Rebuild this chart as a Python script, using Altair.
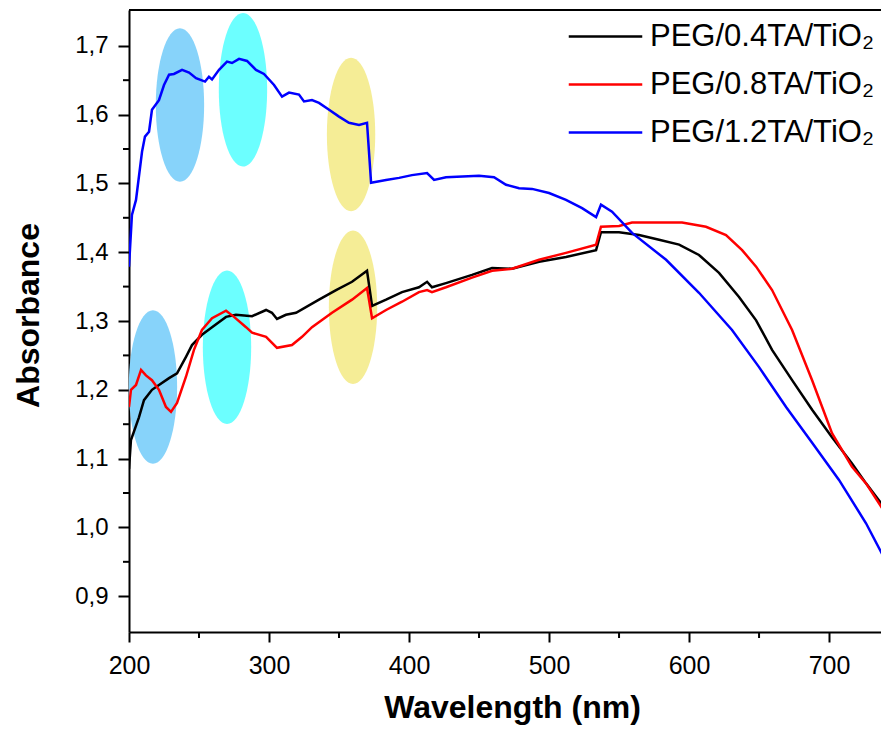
import altair as alt
import pandas as pd

# ---------------- data ----------------
names = ["PEG/0.4TA/TiO₂", "PEG/0.8TA/TiO₂", "PEG/1.2TA/TiO₂"]
colors = ["#000000", "#FF0000", "#0000FF"]

black_x = [200, 201.4, 207.1, 210.7, 216.4, 221.4, 228.6, 234.3, 240.7, 245, 252.1, 259.3, 269.3, 276.4,
           287.9, 297.9, 302.1, 305.7, 312.1, 319.3, 335.7, 347.9, 359.3, 370, 373.6, 383.6, 395, 407.1,
           412.9, 416.4, 426.4, 445, 459.3, 473.6, 492.9, 512.1, 533.6, 537.1, 550, 564.3, 578.6, 592.9,
           607.1, 621.4, 635.7, 647.9, 659.3, 673.6, 687.9, 702.1, 716.4, 726.4, 742.1]
black_y = [1.085, 1.127, 1.160, 1.185, 1.200, 1.207, 1.217, 1.224, 1.248, 1.265, 1.280, 1.291, 1.306, 1.309,
           1.307, 1.316, 1.312, 1.303, 1.309, 1.312, 1.331, 1.345, 1.357, 1.373, 1.322, 1.331, 1.342, 1.349,
           1.357, 1.349, 1.355, 1.367, 1.377, 1.376, 1.386, 1.393, 1.403, 1.429, 1.429, 1.425, 1.418, 1.411,
           1.396, 1.370, 1.335, 1.301, 1.258, 1.214, 1.171, 1.131, 1.093, 1.064, 1.022]

red_x = [200, 201.4, 205, 208.6, 212.1, 216.4, 221.4, 226.4, 230, 234.3, 240.7, 246.4, 252.1, 259.3, 269.3,
         275, 283.6, 287.9, 297.9, 305.7, 316.4, 323.6, 330.7, 345, 359.3, 370, 373.6, 383.6, 395, 407.1,
         412.9, 416.4, 426.4, 445, 459.3, 473.6, 492.9, 512.1, 533.6, 537.1, 550, 559.3, 595, 612.1, 626.4,
         637.9, 647.9, 659.3, 673.6, 687.9, 702.1, 716.4, 726.4, 742.1]
red_y = [1.175, 1.200, 1.207, 1.229, 1.221, 1.214, 1.200, 1.175, 1.168, 1.181, 1.219, 1.258, 1.287, 1.304, 1.315,
         1.306, 1.291, 1.283, 1.277, 1.261, 1.265, 1.277, 1.291, 1.312, 1.331, 1.348, 1.304, 1.316, 1.328, 1.342,
         1.345, 1.342, 1.349, 1.363, 1.373, 1.376, 1.389, 1.399, 1.411, 1.437, 1.438, 1.443, 1.443, 1.437, 1.425,
         1.403, 1.379, 1.345, 1.287, 1.214, 1.137, 1.088, 1.064, 1.015]

blue_x = [200, 202.1, 205, 209.3, 211.4, 214.3, 216.4, 221.4, 225, 228.6, 232.1, 237.9, 242.9, 247.9, 254.3,
          257.1, 259.3, 264.3, 270, 273.6, 278.6, 284.3, 290.7, 296.4, 303.6, 309.3, 314.3, 321.4, 325, 330.7,
          335.7, 342.9, 350, 357.1, 364.3, 370, 372.9, 383.6, 392.9, 402.1, 412.9, 417.9, 426.4, 450, 460.7,
          469.3, 478.6, 487.9, 500, 512.1, 523.6, 533.6, 537.1, 545, 559.3, 583.6, 607.1, 630.7, 650, 669.3,
          687.9, 707.1, 726.4, 742.1]
blue_y = [1.379, 1.454, 1.476, 1.546, 1.568, 1.575, 1.607, 1.621, 1.643, 1.658, 1.659, 1.665, 1.661, 1.653, 1.648,
          1.655, 1.651, 1.665, 1.677, 1.675, 1.681, 1.678, 1.665, 1.659, 1.643, 1.626, 1.632, 1.629, 1.619, 1.621,
          1.617, 1.607, 1.597, 1.588, 1.585, 1.588, 1.501, 1.505, 1.508, 1.512, 1.515, 1.505, 1.509, 1.511, 1.509,
          1.498, 1.493, 1.492, 1.486, 1.476, 1.464, 1.451, 1.469, 1.459, 1.428, 1.389, 1.341, 1.287, 1.233, 1.175,
          1.123, 1.069, 1.006, 0.945]

# highlight ellipses: centre wavelength, centre absorbance, fill colour
ell_x = [236.4, 281.4, 358.6, 217.1, 270.0, 360.0]
ell_y = [1.614, 1.636, 1.571, 1.204, 1.262, 1.320]
ell_c = ["#87D3FA", "#6CFFFF", "#F5ED96", "#87D3FA", "#6CFFFF", "#F5ED96"]

x_major = [200, 300, 400, 500, 600, 700]
x_minor = [250, 350, 450, 550, 650]
y_major = [0.9, 1.0, 1.1, 1.2, 1.3, 1.4, 1.5, 1.6, 1.7]
y_minor = [0.95, 1.05, 1.15, 1.25, 1.35, 1.45, 1.55, 1.65]

X_DOMAIN = [200, 737.1]
Y_DOMAIN = [0.848, 1.752]
W, H = 752, 622
FONT = "Liberation Sans"

# ---------------- frames ----------------
rows = []
for n, xs_, ys_ in zip(names, [black_x, red_x, blue_x], [black_y, red_y, blue_y]):
    for i, (a, b) in enumerate(zip(xs_, ys_)):
        rows.append({"series": n, "x": a, "y": b, "i": i})
lines_df = pd.DataFrame(rows)
ell_df = pd.DataFrame({"x": ell_x, "y": ell_y, "c": ell_c})

xs = alt.Scale(domain=X_DOMAIN, nice=False, zero=False)
ys = alt.Scale(domain=Y_DOMAIN, nice=False, zero=False)

x_axis = alt.Axis(
    values=x_major, title="Wavelength (nm)", grid=False, labelFlush=False,
    tickSize=10, tickWidth=2, domainWidth=2, domainColor="black", tickColor="black",
    labelFont=FONT, labelFontSize=25, labelColor="black", labelPadding=11,
    titleFont=FONT, titleFontSize=32, titleFontWeight="bold", titleColor="black",
    titleX=383, titleY=85, titleBaseline="alphabetic", titleAlign="center")
y_axis = alt.Axis(
    values=y_major, title="Absorbance", grid=False, labelFlush=False,
    labelExpr="replace(format(datum.value, '.1f'), '.', ',')",
    tickSize=11, tickWidth=2, domainWidth=2, domainColor="black", tickColor="black",
    labelFont=FONT, labelFontSize=24, labelColor="black", labelPadding=10,
    titleFont=FONT, titleFontSize=32, titleFontWeight="bold", titleColor="black",
    titleX=-91, titleY=305, titleAngle=270, titleBaseline="alphabetic", titleAlign="center")

ELLIPSE = "M0,-1A0.315,1 0 1,1 0,1A0.315,1 0 1,1 0,-1Z"
LEG_SYM = "M-2.45,0H2.45"

ellipses = alt.Chart(ell_df).mark_point(
    shape=ELLIPSE, filled=True, opacity=1, strokeWidth=0, size=23560
).encode(
    x=alt.X("x:Q", scale=xs, axis=x_axis),
    y=alt.Y("y:Q", scale=ys, axis=y_axis),
    fill=alt.Fill("c:N", scale=None),
)

lines = alt.Chart(lines_df).mark_line(strokeWidth=2.5, clip=True).encode(
    x=alt.X("x:Q", scale=xs, axis=x_axis),
    y=alt.Y("y:Q", scale=ys, axis=y_axis),
    color=alt.Color("series:N", scale=alt.Scale(domain=names, range=colors), sort=names,
                    legend=alt.Legend(title=None, orient="none", legendX=460, legendY=10,
                                      symbolType=LEG_SYM, symbolSize=900, symbolStrokeWidth=2.5,
                                      labelFont=FONT, labelFontSize=31, labelColor="black",
                                      labelOffset=28, rowPadding=16, padding=0, labelLimit=400)),
    order="i:Q",
)

ymin_df = pd.DataFrame({"x": [200.0] * len(y_minor), "y": y_minor})
xmin_df = pd.DataFrame({"x": x_minor, "y": [Y_DOMAIN[0]] * len(x_minor)})

y_minor_ticks = alt.Chart(ymin_df).mark_rule(color="black", strokeWidth=2).encode(
    y=alt.Y("y:Q", scale=ys, axis=y_axis), x=alt.value(0), x2=alt.value(-6))
x_minor_ticks = alt.Chart(xmin_df).mark_rule(color="black", strokeWidth=2).encode(
    x=alt.X("x:Q", scale=xs, axis=x_axis), y=alt.value(H), y2=alt.value(H + 6))
top_spine = alt.Chart(alt.Data(values=[{}])).mark_rule(color="black", strokeWidth=2).encode(
    x=alt.value(0), x2=alt.value(W), y=alt.value(0))

chart = alt.layer(ellipses, lines, y_minor_ticks, x_minor_ticks, top_spine).properties(
    width=W, height=H,
    autosize=alt.AutoSizeParams(type="none"),
    padding={"left": 121, "top": 2, "right": 0, "bottom": 96},
).configure_view(stroke=None).configure(background="white")

chart.save("out.html", embed_options={"renderer": "svg", "actions": False})
